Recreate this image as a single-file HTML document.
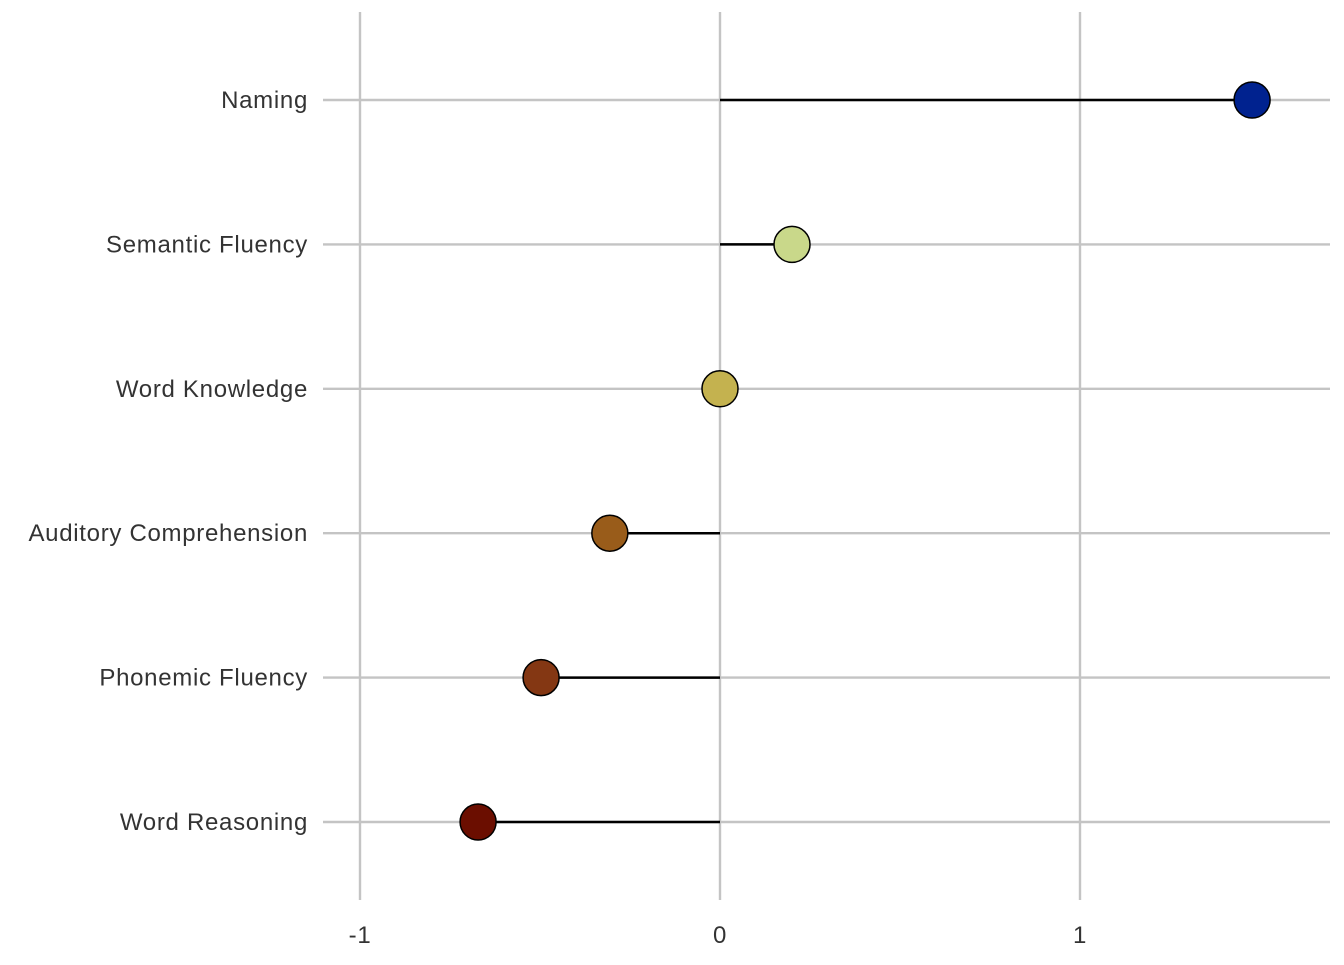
<!DOCTYPE html>
<html><head><meta charset="utf-8"><style>
body{margin:0;background:#fff}
svg text{font-family:"Liberation Sans",Arial,sans-serif;font-size:24px;letter-spacing:0.7px;fill:#333}
</style></head><body>
<svg width="1344" height="960" id="chart"></svg>
<script>
const categories=["Naming","Semantic Fluency","Word Knowledge","Auditory Comprehension","Phonemic Fluency","Word Reasoning"];
const values=[1.478,0.2,0,-0.306,-0.497,-0.672];
const colors=["#00228f","#c9d88a","#c4b24f","#995c1a","#843713","#6b0e00"];
const ticks=[-1,0,1];
const tickLabels=["-1","0","1"];
const svg=document.getElementById('chart');
const NS="http://www.w3.org/2000/svg";
const x=v=>720+v*360;
const y=i=>100+i*144.4;
function mk(t,a){const e=document.createElementNS(NS,t);for(const k in a)e.setAttribute(k,a[k]);svg.appendChild(e);return e;}
ticks.forEach((t,i)=>{
 const l=mk('line',{x1:x(t),x2:x(t),y1:12,y2:900,stroke:'#c4c4c4','stroke-width':2.4});
 
 
 const tx=mk('text',{x:x(t),y:943,'text-anchor':'middle'});tx.textContent=tickLabels[i];
 
 
});
categories.forEach((c,i)=>{
 const g=mk('line',{x1:323,x2:1330,y1:y(i),y2:y(i),stroke:'#c4c4c4','stroke-width':2.4});
 
 
 const tx=mk('text',{x:308,y:y(i)+8,'text-anchor':'end'});tx.textContent=c;
 
 
});
categories.forEach((c,i)=>{
 const s=mk('line',{x1:x(0),x2:x(values[i]),y1:y(i),y2:y(i),stroke:'#000','stroke-width':2.5});
 
 
 const p=mk('circle',{cx:x(values[i]),cy:y(i),r:18,fill:colors[i],stroke:'#000','stroke-width':1.5});
 
 
});
</script>
</body></html>
